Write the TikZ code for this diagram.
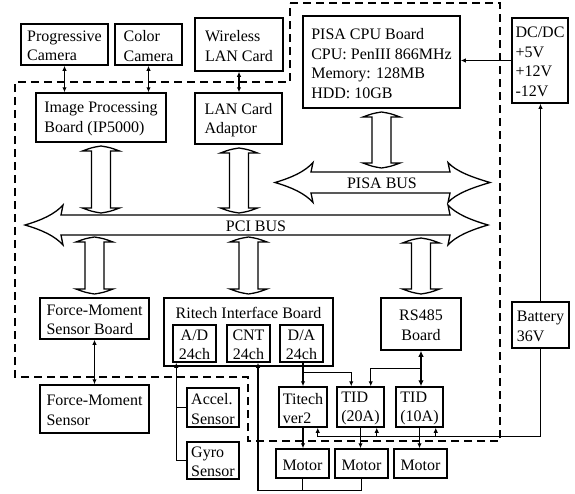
\documentclass[tikz,border=0pt]{standalone}
\usepackage{fontspec}
\setmainfont{Liberation Serif}
\usetikzlibrary{calc,arrows.meta}
\tikzset{
  box/.style={draw, line width=1.5pt, inner sep=0pt},
  thinbox/.style={draw, line width=1.2pt, inner sep=0pt},
  txt/.style={inner sep=0pt, font=\fontsize{16}{19.5}\selectfont, align=left},
  ctxt/.style={txt, align=center},
  conn/.style={line width=1.2pt},
  thickconn/.style={line width=2pt, arrows={Latex[length=6pt,width=5.5pt]-Latex[length=6pt,width=5.5pt]}},
  busline/.style={line width=1.3pt, line join=miter},
  dashline/.style={line width=1.5pt, dash pattern=on 8pt off 5pt}
}
% #1 text style, #2 name, #3 x1, #4 y1, #5 x2, #6 y2, #7 text
\newcommand\bx[7][txt]{%
  \node[box, minimum width={(#5-#3)*1pt}, minimum height={(#6-#4)*1pt}] (#2) at ({(#3+#5)/2},{(#4+#6)/2}) {};
  \node[#1] (#2-t) at ({(#3+#5)/2},{(#4+#6)/2+1.5}) {#7};}
% vertical double arrow: x, ytop, ybot
\newcommand\vdbl[3]{%
  \draw[busline] (#1,#2) .. controls (#1+9,#2+1.5) .. (#1+18.5,#2+5) -- (#1+9.5,#2+5) -- (#1+9.5,#3-5) -- (#1+18.5,#3-5)
    .. controls (#1+9,#3-1.5) .. (#1,#3) .. controls (#1-9,#3-1.5) .. (#1-18.5,#3-5) -- (#1-9.5,#3-5) -- (#1-9.5,#2+5) -- (#1-18.5,#2+5)
    .. controls (#1-9,#2+1.5) .. cycle;}
\begin{document}
\begin{tikzpicture}[x=1pt, y=-1pt, >={Latex[length=5pt,width=4.5pt]}]
\useasboundingbox (0,0) rectangle (575,493);

% dashed enclosure
\draw[dashline] (290,3) -- (500,3) -- (500,441) -- (248,441) -- (248,377) -- (15,377) -- (15,82) -- (290,82) -- cycle;

% boxes
\bx{pcam}{21}{24}{108}{65}{Progressive\\Camera}
\bx{ccam}{115}{24}{182}{65}{Color\\Camera}
\bx{wlan}{195}{18}{283}{71}{Wireless\\LAN Card}
\bx{ipb}{36}{93}{166}{142}{Image Processing\\Board (IP5000)}
\bx{lan}{195}{93}{282}{144}{LAN Card\\Adaptor}
\bx{pisa}{303}{16}{460}{108}{PISA CPU Board\\CPU: PenIII 866MHz\\Memory: 128MB\\HDD: 10GB}
\bx{dcdc}{512}{18}{568}{103}{DC/DC\\+5V\\+12V\\-12V}
\bx{fmb}{40}{298}{149}{339}{Force-Moment\\Sensor Board}
\node[thinbox, minimum width=169pt, minimum height=68pt] (ritech) at (248.5,332) {};
\node[txt, anchor=base] (ritech-t) at (248.5,318) {Ritech Interface Board};
\bx[ctxt]{ad}{173}{325}{216}{362}{A/D\\24ch}
\bx[ctxt]{cnt}{227}{325}{270}{362}{CNT\\24ch}
\bx[ctxt]{da}{280}{325}{323}{362}{D/A\\24ch}
\bx[ctxt]{rs}{381}{298}{461}{350}{RS485\\Board}
\bx{bat}{512}{302}{569}{348}{Battery\\36V}
\bx{fms}{40}{385}{149}{433}{Force-Moment\\Sensor}
\bx{accel}{187}{388}{239}{427}{Accel.\\Sensor}
\bx{gyro}{187}{442}{239}{479}{Gyro\\Sensor}
\bx{titech}{279}{387}{327}{427}{Titech\\ver2}
\bx{tid20}{337}{387}{384}{427}{TID\\(20A)}
\bx{tid10}{396}{387}{443}{427}{TID\\(10A)}
\bx[ctxt]{m1}{276}{449}{329}{478}{Motor}
\bx[ctxt]{m2}{335}{449}{388}{478}{Motor}
\bx[ctxt]{m3}{394}{449}{447}{478}{Motor}

% buses
\draw[busline] (25,225) .. controls (42,220) and (55,214) .. (63,205) -- (61,215) -- (450,215) -- (448,205)
  .. controls (456,214) and (471,220) .. (488,225) .. controls (471,230) and (456,236) .. (448,245)
  -- (450,235) -- (61,235) -- (63,245) .. controls (55,236) and (42,230) .. cycle;
\node[txt] (pcibus) at (256,226) {PCI BUS};
\draw[busline] (275,182.5) .. controls (292,177.5) and (305,171.5) .. (313,162.5) -- (311,172) -- (450,172) -- (448,162.5)
  .. controls (456,171.5) and (473,177.5) .. (490,182.5) .. controls (473,187.5) and (456,193.5) .. (448,202.5)
  -- (450,193) -- (311,193) -- (313,202.5) .. controls (305,193.5) and (292,187.5) .. cycle;
\node[txt] (pisabus) at (382,183) {PISA BUS};

% vertical double arrows
\vdbl{101}{146}{213}
\vdbl{239}{148}{213}
\vdbl{381.5}{112}{168}
\vdbl{94.5}{237}{294}
\vdbl{248.5}{237}{294}
\vdbl{421}{238}{294}

% small connectors
\draw[conn,<->] (pcam.south) -- (pcam.south |- ipb.north);
\draw[conn,<->] (ccam.south) -- (ccam.south |- ipb.north);
\draw[conn,<->] (wlan.south) -- (wlan.south |- lan.north);
\draw[conn,->] (dcdc.west) -- (dcdc.west -| pisa.east);
\draw[conn,->] (bat.north) -- (bat.north |- dcdc.south);
\draw[conn,<->] (fmb.south) -- (fmb.south |- fms.north);

% A/D sensors
\coordinate (adp) at ($(ad.south west)+(4,0)$);
\draw[conn,<-] (adp) -- (adp |- gyro.west) -- (gyro.west);
\draw[conn] (adp |- accel.west) -- (accel.west);

% CNT feedback
\coordinate (cntp) at ($(cnt.south)+(9.5,0)$);
\coordinate (fb) at ($(m1.south)+(0,12)$);
\draw[conn,<-] (cntp) -- (cntp |- fb) -- (fb -| m2.south) -- (m2.south);
\draw[conn] (m1.south) -- (fb);

% D/A
\coordinate (dap) at (titech.north |- da.south);
\draw[conn,->] (dap) -- (titech.north);
\coordinate (t20a) at ($(tid20.north west)+(15,0)$);
\draw[conn,->] ($(dap)+(0,10)$) -| (t20a);

% RS485
\draw[thickconn] (rs.south) -- (rs.south |- tid10.north);
\coordinate (t20b) at ($(tid20.north east)+(-14,0)$);
\draw[conn,->] ($(rs.south)+(0,18)$) -| (t20b);

% power
\coordinate (pw) at ($(bat.south)+(0,88)$);
\coordinate (tp) at ($(titech.south east)+(-10,0)$);
\draw[conn,->] (bat.south) -- (pw) -- (pw -| tp) -- (tp);
\coordinate (t20p) at ($(tid20.south east)+(-8,0)$);
\coordinate (t10p) at ($(tid10.south east)+(-8,0)$);
\draw[conn,->] (pw -| t20p) -- (t20p);
\draw[conn,->] (pw -| t10p) -- (t10p);

% motors
\draw[conn,->] (titech.south) -- (titech.south |- m1.north);
\draw[conn,->] (tid20.south) -- (tid20.south |- m2.north);
\draw[conn,->] (tid10.south) -- (tid10.south |- m3.north);
\end{tikzpicture}
\end{document}
